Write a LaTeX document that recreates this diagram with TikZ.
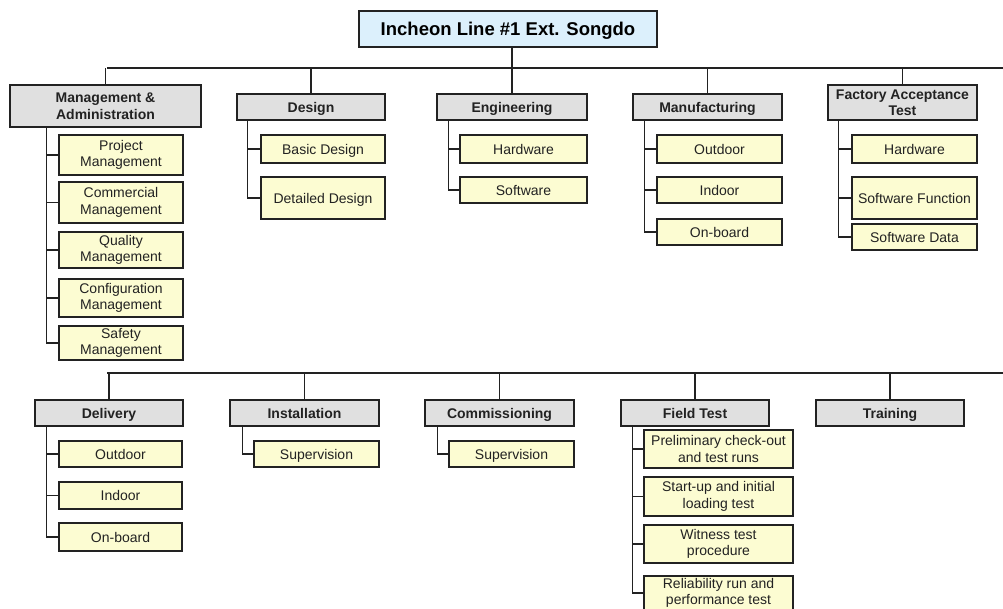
\documentclass[tikz,border=0pt]{standalone}
\usepackage{fontspec}
\setmainfont{Liberation Sans}
\usepackage{xcolor}
\usetikzlibrary{positioning,calc}
\definecolor{rootblue}{RGB}{220,240,252}
\definecolor{headgray}{RGB}{224,224,224}
\definecolor{itemyellow}{RGB}{252,252,210}
\definecolor{wbsline}{RGB}{34,34,34}
\tikzset{wbsroot/.style={draw=wbsline, line width=1.4pt, fill=rootblue, inner sep=0pt, minimum width=298pt, minimum height=36pt, text height=13.5pt, text depth=0pt, font=\fontsize{18.5}{22}\selectfont\bfseries}}
\tikzset{wbshead/.style={draw=wbsline, line width=1.4pt, fill=headgray, inner sep=0pt, align=center, minimum width=148pt, minimum height=26pt, text height=10pt, text depth=0pt, text=wbsline, font=\fontsize{14}{16.5}\selectfont\bfseries}}
\tikzset{wbsitem/.style={draw=wbsline, line width=1.4pt, fill=itemyellow, inner sep=0pt, align=center, minimum width=125pt, minimum height=26pt, text height=10pt, text depth=0pt, text=wbsline, font=\fontsize{14}{16.5}\selectfont}}
\tikzset{wbswrap/.style={text height=, text depth=}}
\tikzset{wbslink/.style={draw=wbsline, line width=1.4pt}}

\begin{document}
\begin{tikzpicture}[x=1pt, y=-1pt]
    \useasboundingbox[fill=white] (0,0) rectangle (1003,608);

    \node[wbsroot] (root) at (508,29) {Incheon Line \#1 Ext. Songdo};

    \node[wbshead, wbswrap, minimum width=191pt, minimum height=42pt] (mgmt) at (105.5,106) {Management \&\\Administration};
    \node[wbshead] (design) at (311,107) {Design};
    \node[wbshead, minimum width=150pt] (eng) at (512,107) {Engineering};
    \node[wbshead, minimum width=149pt] (manu) at (707.5,107) {Manufacturing};
    \node[wbshead, wbswrap, minimum width=149pt, minimum height=35pt] (fat) at (902.5,102.5) {Factory Acceptance\\Test};

    \node[wbsitem, wbswrap, minimum width=124pt, minimum height=40pt] (pm) at (121,155) {Project\\Management};
    \node[wbsitem, wbswrap, minimum width=124pt, minimum height=41pt] (cm) at (121,202.5) {Commercial\\Management};
    \node[wbsitem, wbswrap, minimum width=124pt, minimum height=36pt] (qm) at (121,250) {Quality\\Management};
    \node[wbsitem, wbswrap, minimum width=124pt, minimum height=38pt] (cfm) at (121,298) {Configuration\\Management};
    \node[wbsitem, wbswrap, minimum width=124pt, minimum height=34pt] (sm) at (121,343) {Safety\\Management};

    \node[wbsitem, minimum width=124pt, minimum height=28pt] (basic) at (323,149) {Basic Design};
    \node[wbsitem, minimum width=124pt, minimum height=42pt] (detail) at (323,198) {Detailed Design};

    \node[wbsitem, minimum width=127pt, minimum height=28pt] (enghw) at (523.5,149) {Hardware};
    \node[wbsitem, minimum width=127pt] (engsw) at (523.5,190) {Software};

    \node[wbsitem, minimum height=28pt] (manuout) at (719.5,149) {Outdoor};
    \node[wbsitem] (manuin) at (719.5,190) {Indoor};
    \node[wbsitem] (manuob) at (719.5,232) {On-board};

    \node[wbsitem, minimum height=28pt] (fathw) at (914.5,149) {Hardware};
    \node[wbsitem, minimum height=42pt] (fatsf) at (914.5,198) {Software Function};
    \node[wbsitem] (fatsd) at (914.5,237) {Software Data};

    \node[wbshead] (deliv) at (109,413) {Delivery};
    \node[wbshead, minimum width=149pt] (inst) at (304.5,413) {Installation};
    \node[wbshead, minimum width=149pt] (comm) at (499.5,413) {Commissioning};
    \node[wbshead] (field) at (695,413) {Field Test};
    \node[wbshead] (train) at (890,413) {Training};

    \node[wbsitem, minimum width=123pt] (delout) at (120.5,454) {Outdoor};
    \node[wbsitem, minimum width=123pt, minimum height=27pt] (delin) at (120.5,495.5) {Indoor};
    \node[wbsitem, minimum width=123pt, minimum height=28pt] (delob) at (120.5,537) {On-board};

    \node[wbsitem] (instsup) at (316.5,454) {Supervision};
    \node[wbsitem] (commsup) at (511.5,454) {Supervision};

    \node[wbsitem, wbswrap, minimum width=149pt, minimum height=38pt] (prelim) at (718.5,449) {Preliminary check-out\\and test runs};
    \node[wbsitem, wbswrap, minimum width=149pt, minimum height=39pt] (startup) at (718.5,496.5) {Start-up and initial\\loading test};
    \node[wbsitem, wbswrap, minimum width=149pt, minimum height=38pt] (witness) at (718.5,544) {Witness test\\procedure};
    \node[wbsitem, wbswrap, minimum width=149pt, minimum height=34pt] (reliab) at (718.5,593) {Reliability run and\\performance test};

    \coordinate (busA) at (107,68);
    \coordinate (busAend) at (1003,68);
    \coordinate (busB) at (107,373);
    \coordinate (busBend) at (1003,373);

    \draw[wbslink] (eng.north |- root.south) -- (eng.north |- busA);
    \draw[wbslink] (busA) -- (busAend);
    \foreach \h in {mgmt,design,eng,manu,fat}
        \draw[wbslink] (\h.north |- busA) -- (\h.north);
    \draw[wbslink] (busB) -- (busBend);
    \foreach \h in {deliv,inst,comm,field,train}
        \draw[wbslink] (\h.north |- busB) -- (\h.north);

    \foreach \s in {pm,cm,qm,cfm,sm}
        \draw[wbslink] ([xshift=-12pt]pm.west |- mgmt.south) |- (\s.west);
    \foreach \s in {basic,detail}
        \draw[wbslink] ([xshift=-13pt]basic.west |- design.south) |- (\s.west);
    \foreach \s in {enghw,engsw}
        \draw[wbslink] ([xshift=-11pt]enghw.west |- eng.south) |- (\s.west);
    \foreach \s in {manuout,manuin,manuob}
        \draw[wbslink] ([xshift=-12pt]manuout.west |- manu.south) |- (\s.west);
    \foreach \s in {fathw,fatsf,fatsd}
        \draw[wbslink] ([xshift=-13pt]fathw.west |- fat.south) |- (\s.west);
    \foreach \s in {delout,delin,delob}
        \draw[wbslink] ([xshift=-12pt]delout.west |- deliv.south) |- (\s.west);
    \draw[wbslink] ([xshift=-11pt]instsup.west |- inst.south) |- (instsup.west);
    \draw[wbslink] ([xshift=-11pt]commsup.west |- comm.south) |- (commsup.west);
    \foreach \s in {prelim,startup,witness,reliab}
        \draw[wbslink] ([xshift=-11pt]prelim.west |- field.south) |- (\s.west);
\end{tikzpicture}
\end{document}
